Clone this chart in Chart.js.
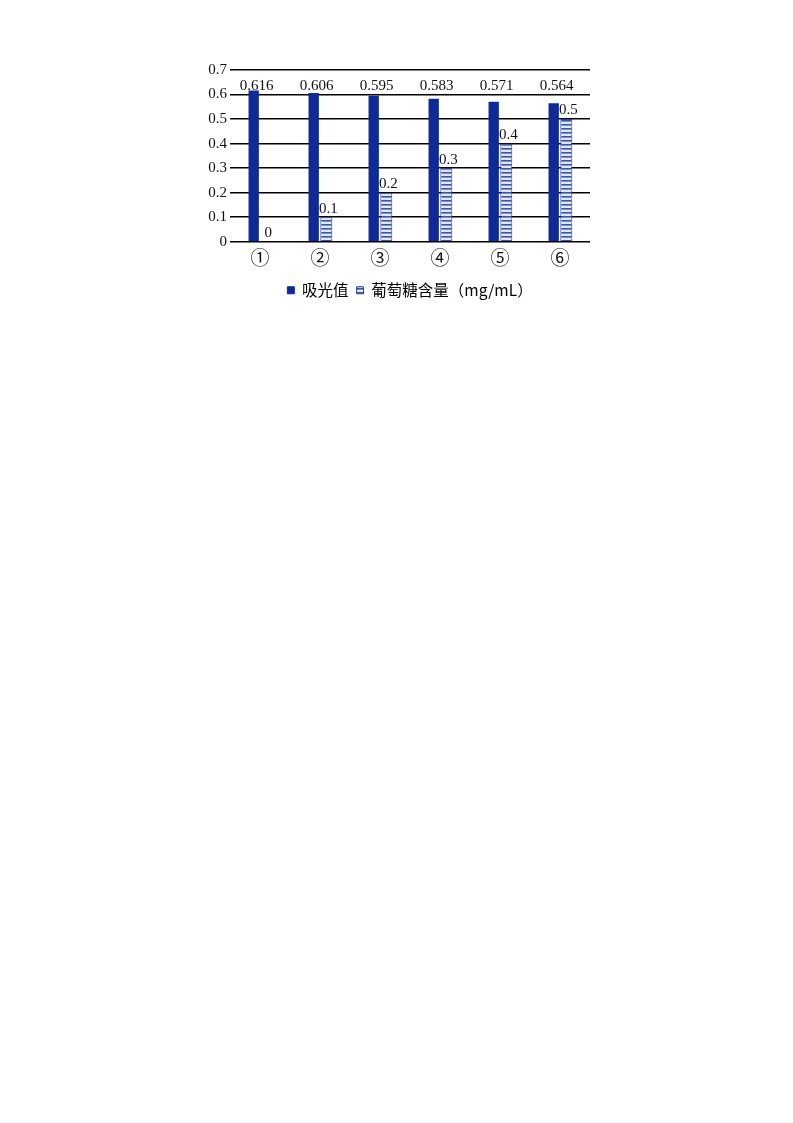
<!DOCTYPE html>
<html><head><meta charset="utf-8">
<script src="https://cdn.jsdelivr.net/npm/chart.js@4.4.0/dist/chart.umd.min.js"></script>
<style>html,body{margin:0;padding:0;background:#fff;}#wrap{position:absolute;left:0;top:0;width:793px;height:310px;}</style>
</head><body><div id="wrap"><canvas id="c"></canvas></div>
<script>
const categories = ['①','②','③','④','⑤','⑥'];
const absorbance = [0.616, 0.606, 0.595, 0.583, 0.571, 0.564];
const glucose = [0, 0.1, 0.2, 0.3, 0.4, 0.5];
const yTicks = [0, 0.1, 0.2, 0.3, 0.4, 0.5, 0.6, 0.7];
const seriesNames = ['吸光值', '葡萄糖含量（mg/mL）'];

function makePattern(){
  const p = document.createElement('canvas'); p.width = 4; p.height = 4;
  const g = p.getContext('2d');
  g.fillStyle = '#dfe6f6'; g.fillRect(0,0,4,4);
  g.fillStyle = '#3b56a8'; g.fillRect(0,0,4,1.6);
  return g.createPattern(p,'repeat');
}
const ctx = document.getElementById('c').getContext('2d');
const hatch = makePattern();

const labelPlugin = {
  id:'vals',
  afterDatasetsDraw(chart){
    const c = chart.ctx; const ys = chart.scales.y;
    c.save(); c.fillStyle='#111'; c.font='15px "Liberation Serif", serif'; c.textAlign='center'; c.textBaseline='bottom';
    const m0 = chart.getDatasetMeta(0), m1 = chart.getDatasetMeta(1);
    m0.data.forEach((b,i)=>{ c.fillText(String(absorbance[i]), b.x+3, ys.getPixelForValue(0.628)+6); });
    m1.data.forEach((b,i)=>{ c.fillText(String(glucose[i]), b.x+2, b.y-1); });
    c.restore();
  }
};

new Chart(ctx,{
  type:'bar',
  data:{labels:categories,datasets:[
    {label:seriesNames[0],data:absorbance,backgroundColor:'#0f2a96',borderColor:'#0f2a96',borderWidth:0,barPercentage:0.82,categoryPercentage:0.42},
    {label:seriesNames[1],data:glucose,backgroundColor:hatch,borderColor:'#2a3f8f',borderWidth:1,barPercentage:0.95,categoryPercentage:0.42}
  ]},
  options:{
    responsive:true,maintainAspectRatio:false,animation:false,
    layout:{padding:{left:188,right:203,top:70,bottom:2}},
    plugins:{
      tooltip:{enabled:false},
      legend:{position:'bottom',fullSize:false,labels:{boxWidth:7,boxHeight:7,padding:8,color:'#111',font:{family:'"Noto Sans CJK SC", sans-serif',size:15.5},
        generateLabels(chart){return chart.data.datasets.map((d,i)=>({text:d.label,fillStyle:i===0?'#0f2a96':hatch,strokeStyle:i===0?'#0f2a96':'#2a3f8f',lineWidth:1,datasetIndex:i}));}}}
    },
    scales:{
      x:{grid:{display:false,drawTicks:false},border:{display:false},ticks:{color:'#111',padding:5,font:{family:'"Noto Sans CJK SC", sans-serif',size:19}}},
      y:{min:0,max:0.7,afterFit(s){s.width=42;},
        afterBuildTicks(s){s.ticks=yTicks.map(v=>({value:v}));},
        grid:{color:'#000',lineWidth:1.6,drawTicks:false},border:{display:false},
        ticks:{color:'#111',padding:3,font:{family:'"Liberation Serif", serif',size:15},callback:v=>String(v)}}
    }
  },
  plugins:[labelPlugin]
});
</script></body></html>
